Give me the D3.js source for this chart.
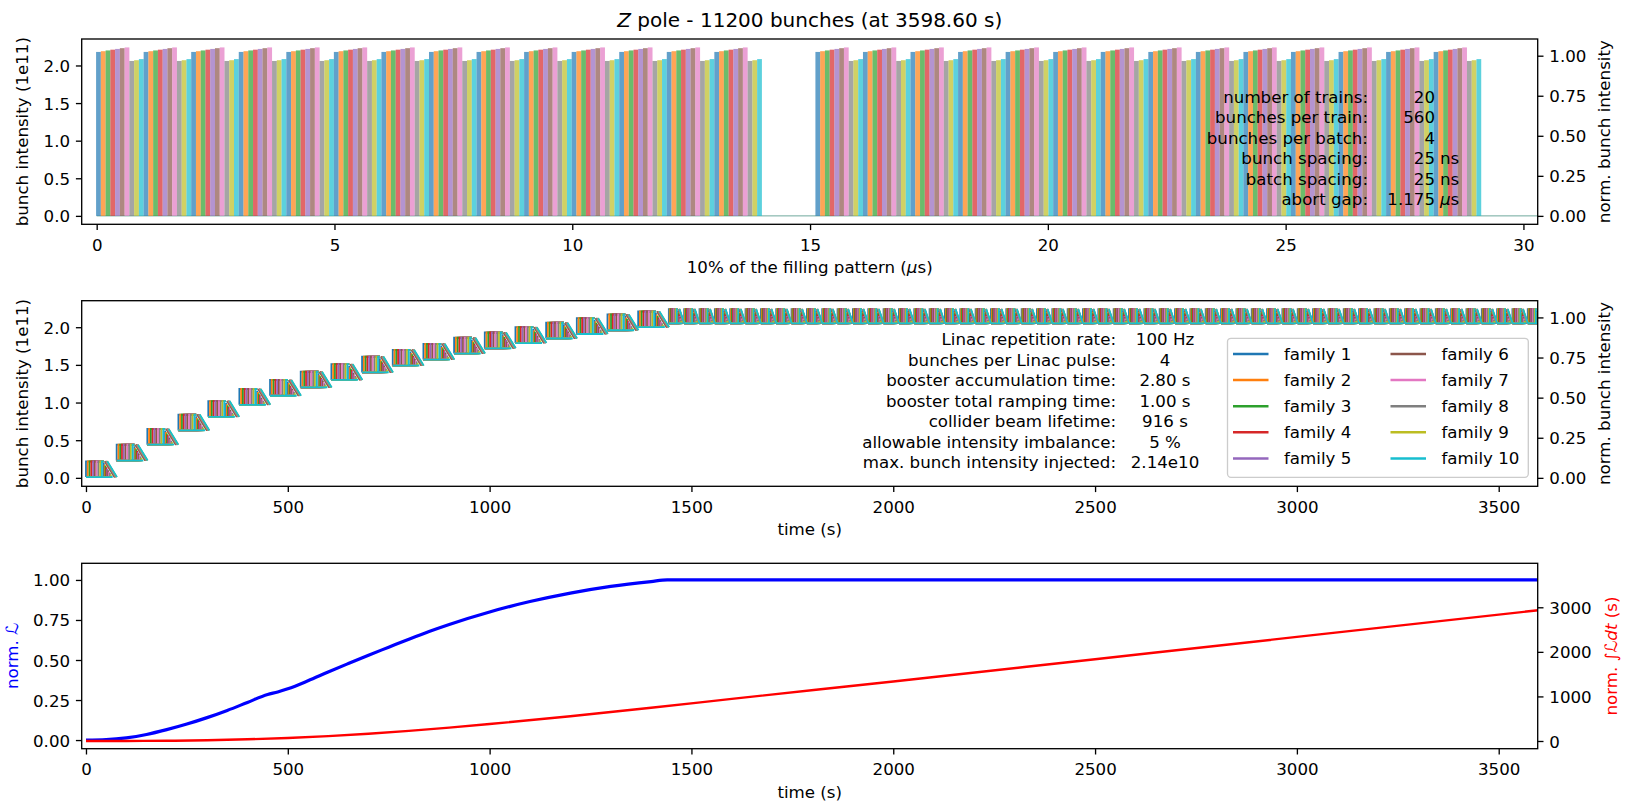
<!DOCTYPE html>
<html>
<head>
<meta charset="utf-8">
<script src="https://cdn.jsdelivr.net/npm/d3@7"></script>
<style>
  body { margin: 0; background: #fff; }
  svg text { font-family: "DejaVu Sans", sans-serif; fill: #000; }
</style>
</head>
<body>
<div id="chart"></div>
<script>
// ---------- data ----------
const familyNames = ["family 1", "family 2", "family 3", "family 4", "family 5",
  "family 6", "family 7", "family 8", "family 9", "family 10"];
const familyColors = d3.schemeCategory10;

// top panel: snapshot of the filling pattern (us)
const trainStarts = [0, 15.125];
const batchesPerTrain = 140;
const batchLength = 0.1; // 4 bunches x 25 ns
const familyIntensity = [2.18, 2.19, 2.2, 2.21, 2.22, 2.23, 2.24, 2.06, 2.07, 2.085];
const patternEnd = 30.37;
const normFactor = 2.13;

const fillLabels = ["number of trains:", "bunches per train:", "bunches per batch:",
  "bunch spacing:", "batch spacing:", "abort gap:"];
const fillValues = ["20", "560", "4", "25", "25", "1.175"];
const fillUnits = ["", "", "", "ns", "ns", "\u03bcs"];

// middle panel: injection blocks (s, 1e11)
const cycleStarts = [0, 76, 152, 229, 303, 380, 456, 532, 608, 684, 760, 836,
  912, 988, 1064, 1140, 1216, 1292, 1368];
const cycleTops = [0.22, 0.44, 0.65, 0.84, 1.02, 1.18, 1.3, 1.41, 1.51, 1.61,
  1.7, 1.78, 1.86, 1.93, 2.0, 2.06, 2.12, 2.17, 2.21];
const blockHeight = 0.21;
const topUpStart = 1444;
const topUpPeriod = 38;
const topUpLow = 2.05;
const topUpHigh = 2.24;

const injLabels = ["Linac repetition rate:", "bunches per Linac pulse:",
  "booster accumulation time:", "booster total ramping time:",
  "collider beam lifetime:", "allowable intensity imbalance:",
  "max. bunch intensity injected:"];
const injValues = ["100 Hz", "4", "2.80 s", "1.00 s", "916 s", "5 %", "2.14e10"];

// bottom panel
const lumiTime = [0, 50, 100, 150, 200, 250, 300, 350, 400, 450, 475, 500, 550,
  600, 650, 700, 750, 800, 850, 900, 1000, 1100, 1200, 1300, 1400, 1440, 3598.6];
const lumiNorm = [0, 0.003, 0.014, 0.035, 0.065, 0.1, 0.14, 0.185, 0.235, 0.285,
  0.3, 0.32, 0.37, 0.425, 0.478, 0.53, 0.58, 0.63, 0.678, 0.722, 0.8, 0.865,
  0.918, 0.96, 0.99, 1.0, 1.0];
const intTime = [0, 100, 200, 300, 400, 500, 600, 700, 800, 900, 1000, 1200,
  1400, 1600, 2000, 2500, 3000, 3598.6];
const intLumi = [0, 1, 5, 17, 38, 68, 110, 163, 228, 300, 380, 555, 745, 945,
  1335, 1835, 2335, 2934];

// ---------- layout ----------
const W = 1625;
const H = 804;
const X0 = 81.7;
const X1 = 1537.7;
const FS = 16.67;
const panels = {
  top: [39, 224.3],
  mid: [300.7, 486.3],
  bot: [563.3, 748.7],
};

const svg = d3
  .select("#chart")
  .append("svg")
  .attr("width", W)
  .attr("height", H)
  .attr("viewBox", [0, 0, W, H]);

function styleAxis(g) {
  g.attr("font-size", FS).attr("font-family", null);
  g.select(".domain").remove();
  g.selectAll(".tick line").attr("stroke", "#000").attr("stroke-width", 1.33);
}

function bottomAxis(x, y1, ticks, fmt) {
  const g = svg
    .append("g")
    .attr("transform", `translate(0,${y1})`)
    .call(d3.axisBottom(x).tickValues(ticks).tickFormat(fmt).tickSize(5.8).tickPadding(5.8));
  styleAxis(g);
  g.selectAll(".tick text").attr("dy", "0.89em");
}

function leftAxis(y, ticks, fmt) {
  const g = svg
    .append("g")
    .attr("transform", `translate(${X0},0)`)
    .call(d3.axisLeft(y).tickValues(ticks).tickFormat(fmt).tickSize(5.8).tickPadding(5.8));
  styleAxis(g);
  g.selectAll(".tick text").attr("dy", "0.36em");
}

function rightAxis(y, ticks, fmt) {
  const g = svg
    .append("g")
    .attr("transform", `translate(${X1},0)`)
    .call(d3.axisRight(y).tickValues(ticks).tickFormat(fmt).tickSize(5.8).tickPadding(5.8));
  styleAxis(g);
  g.selectAll(".tick text").attr("dy", "0.36em");
}

function frame(y0, y1) {
  svg
    .append("rect")
    .attr("x", X0)
    .attr("y", y0)
    .attr("width", X1 - X0)
    .attr("height", y1 - y0)
    .attr("fill", "none")
    .attr("stroke", "#000")
    .attr("stroke-width", 1.33);
}

function clip(id, y0, y1) {
  svg
    .append("clipPath")
    .attr("id", id)
    .append("rect")
    .attr("x", X0)
    .attr("y", y0)
    .attr("width", X1 - X0)
    .attr("height", y1 - y0);
}

function yLabel(x, yc, txt, color) {
  const t = svg
    .append("text")
    .attr("transform", `translate(${x},${yc}) rotate(-90)`)
    .attr("text-anchor", "middle")
    .attr("font-size", FS);
  if (color) t.style("fill", color);
  return t;
}

// ---------- top panel ----------
function drawTop() {
  const [y0, y1] = panels.top;
  const x = d3.scaleLinear().domain([-0.315, 30.3]).range([X0, X1]);
  const y = d3.scaleLinear().domain([-0.112, 2.352]).range([y1, y0]);
  const yn = d3.scaleLinear().domain([-0.112 / normFactor, 2.352 / normFactor]).range([y1, y0]);

  const batches = [];
  trainStarts.forEach((t0) => {
    for (let b = 0; b < batchesPerTrain; b++) {
      const fam = b % 10;
      batches.push({ x: t0 + b * batchLength - 0.0125, fam: fam, v: familyIntensity[fam] });
    }
  });

  clip("clipTop", y0, y1);
  const g = svg.append("g").attr("clip-path", "url(#clipTop)");

  g.append("line")
    .attr("x1", x(0))
    .attr("x2", x(patternEnd))
    .attr("y1", y(0))
    .attr("y2", y(0))
    .attr("stroke", "#6fa89c")
    .attr("stroke-width", 1);

  g.selectAll("rect.bunch")
    .data(batches)
    .enter()
    .append("rect")
    .attr("class", "bunch")
    .attr("x", (d) => x(d.x))
    .attr("width", (d) => x(d.x + batchLength) - x(d.x))
    .attr("y", (d) => y(d.v))
    .attr("height", (d) => y(0) - y(d.v))
    .attr("fill", (d) => familyColors[d.fam])
    .attr("fill-opacity", 0.7);

  bottomAxis(x, y1, d3.range(0, 31, 5), d3.format("d"));
  leftAxis(y, [0, 0.5, 1, 1.5, 2], d3.format(".1f"));
  rightAxis(yn, [0, 0.25, 0.5, 0.75, 1], d3.format(".2f"));
  frame(y0, y1);

  // annotation
  fillLabels.forEach((lab, i) => {
    const by = 102.5 + 20.5 * i;
    svg.append("text").attr("x", 1368).attr("y", by).attr("text-anchor", "end")
      .attr("font-size", FS).text(lab);
    svg.append("text").attr("x", 1435).attr("y", by).attr("text-anchor", "end")
      .attr("font-size", FS).text(fillValues[i]);
    if (fillUnits[i]) {
      const t = svg.append("text").attr("x", 1440).attr("y", by).attr("font-size", FS);
      if (fillUnits[i] === "\u03bcs") {
        t.append("tspan").attr("font-style", "italic").text("\u03bc");
        t.append("tspan").text("s");
      } else {
        t.text(fillUnits[i]);
      }
    }
  });

  // title
  const title = svg.append("text").attr("x", (X0 + X1) / 2).attr("y", 26.5)
    .attr("text-anchor", "middle").attr("font-size", 20);
  title.append("tspan").attr("font-style", "italic").text("Z");
  title.append("tspan").text(" pole - 11200 bunches (at 3598.60 s)");

  const xl = svg.append("text").attr("x", (X0 + X1) / 2).attr("y", y1 + 49)
    .attr("text-anchor", "middle").attr("font-size", FS);
  xl.append("tspan").text("10% of the filling pattern (");
  xl.append("tspan").attr("font-style", "italic").text("\u03bc");
  xl.append("tspan").text("s)");

  yLabel(27.8, (y0 + y1) / 2).text("bunch intensity (1e11)");
  yLabel(1609.5, (y0 + y1) / 2).text("norm. bunch intensity");
}

// ---------- middle panel ----------
// one injection block for family k: stripe + flat top, a stripe under the
// slanted edge, and a slanted tail line (time in units of a 76 s cycle)
function blockSegments(T, lo, hi, period, k) {
  const s = period / 76;
  const t2 = T + (44 + 2.2 * k) * s;
  const frac = Math.min(1, (t2 - T - 44 * s + 2.5 * s) / (24 * s));
  return [
    [[T, lo], [T + 4.4 * k * s, lo], [T + 4.4 * k * s, hi], [T + 44 * s, hi]],
    [[T + 4.4 * k * s, lo], [t2, lo], [t2, hi - (hi - lo) * frac]],
    [[T + (46.5 + 0.7 * k) * s, hi], [T + (70.5 + 0.7 * k) * s, lo]],
  ];
}

function drawMiddle() {
  const [y0, y1] = panels.mid;
  const x = d3.scaleLinear().domain([-10.6, 3596.6]).range([X0, X1]);
  const y = d3.scaleLinear().domain([-0.112, 2.352]).range([y1, y0]);
  const yn = d3.scaleLinear().domain([-0.112 / normFactor, 2.352 / normFactor]).range([y1, y0]);

  const blocks = [];
  cycleStarts.forEach((T, n) => {
    blocks.push({ T: T, lo: Math.max(0, cycleTops[n] - blockHeight), hi: cycleTops[n], period: 76 });
  });
  for (let T = topUpStart; T < 3640; T += topUpPeriod) {
    blocks.push({ T: T, lo: topUpLow, hi: topUpHigh, period: topUpPeriod });
  }

  clip("clipMid", y0, y1);
  const g = svg.append("g").attr("clip-path", "url(#clipMid)");
  const line = d3.line().x((d) => x(d[0])).y((d) => y(d[1]));

  familyColors.forEach((c, k) => {
    let d = "";
    blocks.forEach((b) => {
      blockSegments(b.T, b.lo, b.hi, b.period, k).forEach((seg) => {
        d += line(seg);
      });
    });
    g.append("path")
      .attr("d", d)
      .attr("fill", "none")
      .attr("stroke", c)
      .attr("stroke-width", 1.8);
  });

  bottomAxis(x, y1, d3.range(0, 3501, 500), d3.format("d"));
  leftAxis(y, [0, 0.5, 1, 1.5, 2], d3.format(".1f"));
  rightAxis(yn, [0, 0.25, 0.5, 0.75, 1], d3.format(".2f"));
  frame(y0, y1);

  injLabels.forEach((lab, i) => {
    const by = 345 + 20.55 * i;
    svg.append("text").attr("x", 1116).attr("y", by).attr("text-anchor", "end")
      .attr("font-size", FS).text(lab);
    svg.append("text").attr("x", 1165).attr("y", by).attr("text-anchor", "middle")
      .attr("font-size", FS).text(injValues[i]);
  });

  // legend
  const lg = svg.append("g");
  lg.append("rect")
    .attr("x", 1227.5).attr("y", 338.3)
    .attr("width", 300.8).attr("height", 139)
    .attr("rx", 3.5)
    .attr("fill", "#fff").attr("fill-opacity", 0.8)
    .attr("stroke", "#cccccc").attr("stroke-width", 1.33);
  familyNames.forEach((name, i) => {
    const col = Math.floor(i / 5);
    const row = i % 5;
    const lx = col === 0 ? 1233 : 1390.5;
    const ly = 354 + 26.1 * row;
    lg.append("line")
      .attr("x1", lx).attr("x2", lx + 35.5)
      .attr("y1", ly).attr("y2", ly)
      .attr("stroke", familyColors[i]).attr("stroke-width", 2.5);
    lg.append("text")
      .attr("x", lx + 51).attr("y", ly).attr("dy", "0.36em")
      .attr("font-size", FS).text(name);
  });

  svg.append("text").attr("x", (X0 + X1) / 2).attr("y", y1 + 49)
    .attr("text-anchor", "middle").attr("font-size", FS).text("time (s)");
  yLabel(27.8, (y0 + y1) / 2).text("bunch intensity (1e11)");
  yLabel(1609.5, (y0 + y1) / 2).text("norm. bunch intensity");
}

// ---------- bottom panel ----------
function drawBottom() {
  const [y0, y1] = panels.bot;
  const x = d3.scaleLinear().domain([-10.6, 3596.6]).range([X0, X1]);
  const y = d3.scaleLinear().domain([-0.054, 1.104]).range([y1, y0]);
  const y2 = d3.scaleLinear().domain([-173, 3987]).range([y1, y0]);

  clip("clipBot", y0, y1);
  const g = svg.append("g").attr("clip-path", "url(#clipBot)");

  g.append("path")
    .datum(d3.zip(lumiTime, lumiNorm))
    .attr("d", d3.line().x((d) => x(d[0])).y((d) => y(d[1])).curve(d3.curveMonotoneX))
    .attr("fill", "none")
    .attr("stroke", "#0000ff")
    .attr("stroke-width", 3.2);

  g.append("path")
    .datum(d3.zip(intTime, intLumi))
    .attr("d", d3.line().x((d) => x(d[0])).y((d) => y2(d[1])).curve(d3.curveMonotoneX))
    .attr("fill", "none")
    .attr("stroke", "#ff0000")
    .attr("stroke-width", 2.4);

  bottomAxis(x, y1, d3.range(0, 3501, 500), d3.format("d"));
  leftAxis(y, [0, 0.25, 0.5, 0.75, 1], d3.format(".2f"));
  rightAxis(y2, [0, 1000, 2000, 3000], d3.format("d"));
  frame(y0, y1);

  svg.append("text").attr("x", (X0 + X1) / 2).attr("y", y1 + 49)
    .attr("text-anchor", "middle").attr("font-size", FS).text("time (s)");

  const ll = yLabel(17.5, (y0 + y1) / 2, null, "#0000ff");
  ll.append("tspan").text("norm. ");
  ll.append("tspan").attr("font-style", "italic").text("\u2112");

  const rl = yLabel(1617, (y0 + y1) / 2, null, "#ff0000");
  rl.append("tspan").text("norm. \u222b");
  rl.append("tspan").attr("font-style", "italic").text("\u2112dt");
  rl.append("tspan").text(" (s)");
}

document.addEventListener("DOMContentLoaded", function () {
  drawTop();
  drawMiddle();
  drawBottom();
});
</script>
</body>
</html>
